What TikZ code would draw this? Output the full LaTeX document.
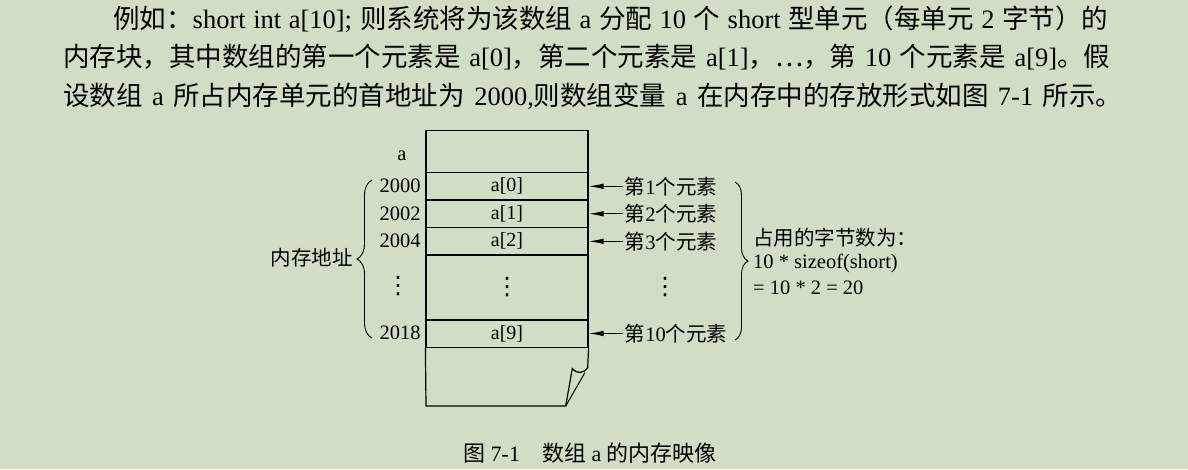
\documentclass[tikz,border=0pt]{standalone}
\usepackage{fontspec}
\setmainfont{Liberation Serif}
\newfontfamily\cjk{Noto Sans CJK SC}
\newfontfamily\symf{DejaVu Sans}
\usetikzlibrary{arrows.meta,decorations.pathreplacing}
\definecolor{paper}{RGB}{207,222,196}
\newcommand{\zh}[1]{{\cjk #1}}
\newcommand{\vdotz}{{\symf\fontsize{24}{24}\selectfont ⋮}}

\begin{document}
\begin{tikzpicture}[x=1pt,y=-1pt,
    cell/.style={draw,line width=1.2pt,minimum width=162pt,inner sep=0pt,font=\fontsize{20}{24}\selectfont},
    lab/.style={inner sep=0pt,font=\fontsize{20.5}{24}\selectfont},
    para/.style={inner sep=0pt,anchor=base west,font=\fontsize{26.5}{30}\selectfont},
    ptr/.style={-{Latex[length=15pt,width=5.5pt]},line width=1pt},
    curly/.style={decorate,decoration={brace,amplitude=#1},line width=0.9pt}]
    \fill[paper] (0,0) rectangle (1188,469);
    \useasboundingbox (0,0) rectangle (1188,469);

    %---------------------------------------------------------------%
    % text above the figure
    \node[para] (l1) at (113,28.5) {\makebox[995pt][s]{\zh{例如：}short int a[10]; \zh{则系统将为该数组} a \zh{分配} 10 \zh{个} short \zh{型单元（每单元} 2 \zh{字节）的}}};
    \node[para] (l2) at (63,66.5) {\makebox[1047pt][s]{\zh{内存块，其中数组的第一个元素是} a[0]\zh{，第二个元素是} a[1]\zh{，…，第} 10 \zh{个元素是} a[9]\zh{。假}}};
    \node[para] (l3) at (63,105.5) {\makebox[1059pt][s]{\zh{设数组} a \zh{所占内存单元的首地址为} 2000,\zh{则数组变量} a \zh{在内存中的存放形式如图} 7-1 \zh{所示。}}};

    %---------------------------------------------------------------%
    % memory cells
    \node[cell,minimum height=42pt] (top) at (507,151.7) {};
    \foreach \n/\y/\h/\t in {c0/186.3/27.3/a[0], c1/213.8/27.7/a[1], c2/241.3/27.3/a[2], cd/287.5/65/\vdotz, c9/333.5/28/a[9]}{% one row each
        \node[cell,minimum height=\h pt] (\n) at (507,\y) {\t};
    }
    \coordinate (bl)  at (426,406);
    \coordinate (fold) at (565.7,406);
    \coordinate (f1)  at (572.3,368.5);
    \coordinate (f2)  at (587.7,367.5);
    \draw[line width=1.2pt] (c9.south west) -- (bl) -- (fold) -- (f1)
        .. controls (577,374) and (583,374) .. (f2) -- (c9.south east);
    \draw[line width=1pt] (fold) -- (585,372.5);

    %---------------------------------------------------------------%
    % addresses
    \node[lab] (va) at (402,156) {a};
    \foreach \y/\t in {186/2000, 214/2002, 241/2004, 333/2018}{% address of each row
        \node[lab] (ad\t) at (400,\y) {\t};
    }
    \node[lab] (adots) at (398,286) {\vdotz};
    \draw[curly=15pt] (372,338) -- (372,180);
    \node[lab,anchor=east] (addr) at (353,258) {\zh{内存地址}};

    %---------------------------------------------------------------%
    % elements
    \foreach \c/\k in {c0/1, c1/2, c2/3, c9/10}{% pointer to each row
        \node[lab,anchor=west,inner sep=2pt,xshift=34pt] (e\k) at (\c.east) {\zh{第}\k\zh{个元素}};
        \draw[ptr] (e\k.west) -- (\c.east);
    }
    \node[lab] (edots) at (665,287) {\vdotz};
    \draw[curly=13pt] (735,182) -- (735,340);
    \node[lab,anchor=west] (s1) at (753,238) {\zh{占用的字节数为：}};
    \node[lab,anchor=west] (s2) at (753,263) {10 * sizeof(short)};
    \node[lab,anchor=west] (s3) at (753,288) {= 10 * 2 = 20};

    %---------------------------------------------------------------%
    \node[lab,font=\fontsize{22}{24}\selectfont] (cap) at (590,453) {\zh{图} 7-1\quad \zh{数组} a \zh{的内存映像}};
\end{tikzpicture}
\end{document}
